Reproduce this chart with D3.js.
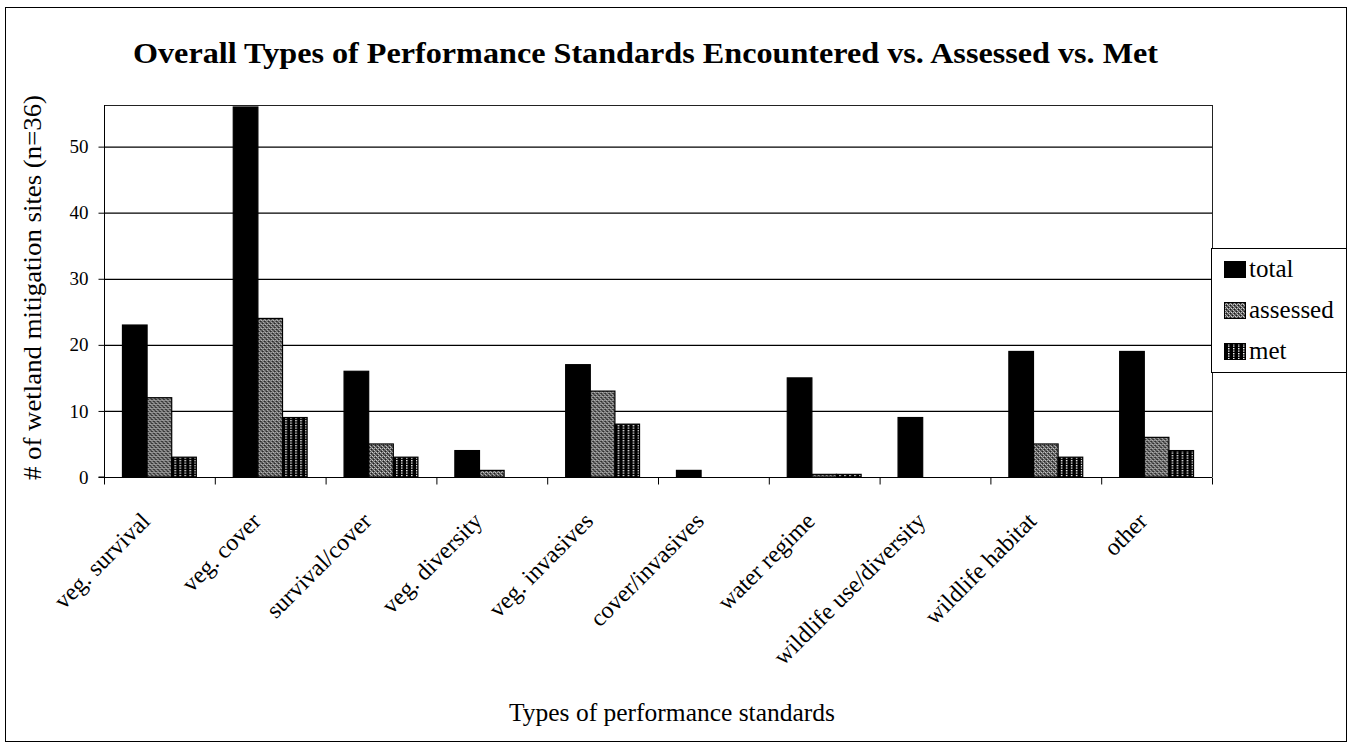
<!DOCTYPE html>
<html><head><meta charset="utf-8">
<script src="https://cdn.jsdelivr.net/npm/d3@7"></script>
<style>
html,body{margin:0;padding:0;background:#fff;}
svg text{font-family:"Liberation Serif","Times New Roman",serif;fill:#000;}
</style></head>
<body>
<svg id="chart" width="1352" height="747" font-family="Liberation Serif, Times New Roman, serif"></svg>
<script>
const categories = ["veg. survival","veg. cover","survival/cover","veg. diversity","veg. invasives","cover/invasives","water regime","wildlife use/diversity","wildlife habitat","other"];
const totalValues    = [23, 56, 16, 4, 17, 1, 15, 9, 19, 19];
const assessedValues = [12, 24, 5, 1, 13, 0, 0.4, 0, 5, 6];
const metValues      = [3, 9, 3, 0, 8, 0, 0.4, 0, 3, 4];
const seriesNames = ["total","assessed","met"];
const yTicks = [0,10,20,30,40,50];
const titleText = "Overall Types of Performance Standards Encountered vs.  Assessed vs. Met";
const yTitle = "# of wetland mitigation sites (n=36)";
const xTitle = "Types of performance standards";

const FONT = "Liberation Serif, Times New Roman, serif";
const svg = d3.select("#chart");
const plot = {l:104, r:1212, t:105, b:477};

// patterns
const defs = svg.append("defs");
const pa = defs.append("pattern").attr("id","pAssessed").attr("patternUnits","userSpaceOnUse").attr("width",4).attr("height",4);
pa.append("rect").attr("width",4).attr("height",4).attr("fill","#5a5a5a");
[[0,0,"#d8d8d8"],[2,2,"#c8c8c8"],[1,1,"#9a9a9a"],[3,3,"#a0a0a0"],[1,3,"#1a1a1a"],[3,1,"#1a1a1a"],[2,0,"#b0b0b0"]].forEach(p=>{
  pa.append("rect").attr("x",p[0]).attr("y",p[1]).attr("width",1).attr("height",1).attr("fill",p[2]);
});
const pm = defs.append("pattern").attr("id","pMet").attr("patternUnits","userSpaceOnUse").attr("width",5).attr("height",2.5);
pm.append("rect").attr("width",5).attr("height",2.5).attr("fill","#000");
pm.append("rect").attr("x",2).attr("y",0).attr("width",1.5).attr("height",1.3).attr("fill","#fff");

const fills = {total:"#000", assessed:"url(#pAssessed)", met:"url(#pMet)"};
const data = categories.map((c,i)=>({cat:c, total:totalValues[i], assessed:assessedValues[i], met:metValues[i]}));

// outer frame
svg.append("rect").attr("x",5.5).attr("y",7.5).attr("width",1341).attr("height",734)
  .attr("fill","none").attr("stroke","#000").attr("stroke-width",1);

const x0 = d3.scaleBand().domain(categories).range([plot.l, plot.r]);
const bw = x0.bandwidth()/4.5;
const x1 = d3.scaleBand().domain(seriesNames).range([0, bw*3]);
const y = d3.scaleLinear().domain([0, 56.3]).range([plot.b, plot.t]);

// gridlines
svg.append("g").selectAll("line").data(yTicks.filter(t=>t>0)).join("line")
  .attr("x1",plot.l).attr("x2",plot.r).attr("y1",d=>y(d)+0.5).attr("y2",d=>y(d)+0.5)
  .attr("stroke","#000").attr("stroke-width",1.2);
// plot border top & right
svg.append("line").attr("x1",plot.l).attr("x2",plot.r).attr("y1",plot.t+0.5).attr("y2",plot.t+0.5).attr("stroke","#222");
svg.append("line").attr("x1",plot.r+0.5).attr("x2",plot.r+0.5).attr("y1",plot.t).attr("y2",plot.b).attr("stroke","#222");

// bars
const groups = svg.append("g").selectAll("g").data(data).join("g")
  .attr("transform",d=>`translate(${x0(d.cat)+bw*0.75},0)`);
groups.selectAll("rect").data(d=>seriesNames.map(s=>({s, v:d[s]}))).join("rect")
  .filter(d=>d.v>0)
  .attr("x",d=>x1(d.s)).attr("width",x1.bandwidth())
  .attr("y",d=>y(d.v)).attr("height",d=>plot.b-y(d.v))
  .attr("fill",d=>fills[d.s]).attr("stroke","#000").attr("stroke-width",1.2);

// y axis
const yAxis = d3.axisLeft(y).tickValues(yTicks).tickSize(6).tickPadding(10).tickFormat(d3.format("d"));
const gy = svg.append("g").attr("transform",`translate(${plot.l+0.5},0)`).call(yAxis);
gy.select(".domain").attr("d",`M-6,${plot.b}H0V${plot.t}`).attr("stroke","#000");
gy.attr("font-family",FONT);
gy.selectAll("text").attr("font-size",19).attr("font-family",FONT);
gy.selectAll("line").attr("stroke","#000");

// x axis
const gx = svg.append("g").attr("transform",`translate(0,${plot.b+0.5})`);
gx.append("line").attr("x1",plot.l).attr("x2",plot.r).attr("stroke","#000").attr("stroke-width",1.2);
const bounds = categories.map(c=>x0(c)).concat([plot.r]);
gx.selectAll("line.tk").data(bounds).join("line").attr("class","tk")
  .attr("x1",d=>d+0.5).attr("x2",d=>d+0.5).attr("y1",0).attr("y2",7).attr("stroke","#000");
gx.selectAll("text").data(categories).join("text")
  .attr("transform",d=>`translate(${x0(d)+x0.bandwidth()/2-8},${45}) rotate(-45)`)
  .attr("text-anchor","end").attr("font-size",24).attr("font-family",FONT).text(d=>d);

// titles
svg.append("text").attr("x",133).attr("y",63).attr("font-size",30).attr("font-weight","bold")
  .attr("font-family",FONT)
  .attr("textLength",1025).attr("lengthAdjust","spacingAndGlyphs").text(titleText);
svg.append("text").attr("transform",`translate(41,480) rotate(-90)`)
  .attr("font-size",26).attr("font-family",FONT).attr("textLength",385).attr("lengthAdjust","spacingAndGlyphs").text(yTitle);
svg.append("text").attr("x",509).attr("y",721)
  .attr("font-size",25).attr("font-family",FONT).attr("textLength",326).attr("lengthAdjust","spacingAndGlyphs").text(xTitle);

// legend
const lg = svg.append("g").attr("transform","translate(1211,248)");
lg.append("rect").attr("x",0.5).attr("y",0.5).attr("width",135).attr("height",124)
  .attr("fill","#fff").attr("stroke","#000");
seriesNames.forEach((s,i)=>{
  const yy = 29 + i*41;
  lg.append("rect").attr("x",13.5).attr("y",yy-15.5).attr("width",21).attr("height",16)
    .attr("fill",fills[s]).attr("stroke","#000");
  lg.append("text").attr("x",38).attr("y",yy).attr("font-size",25).attr("font-family",FONT).text(s);
});
</script>
</body></html>
